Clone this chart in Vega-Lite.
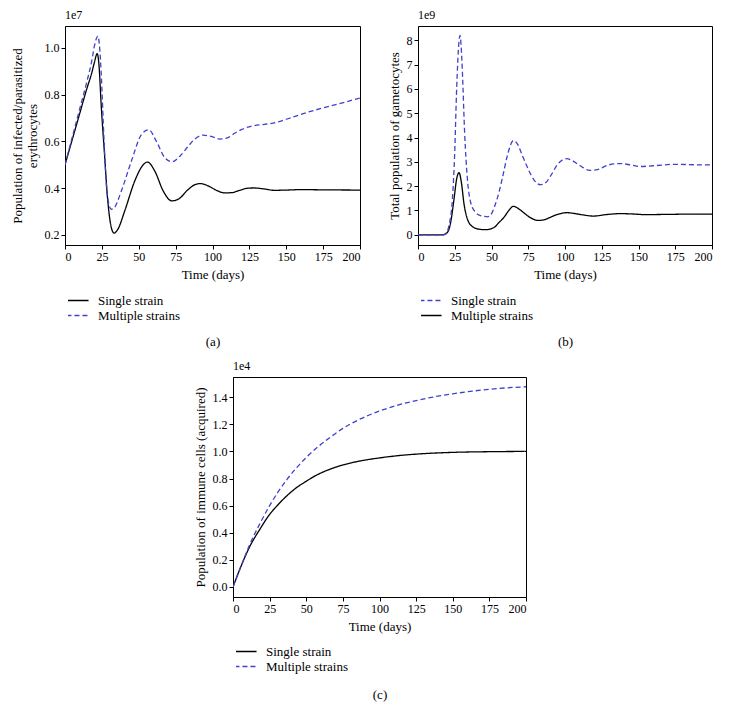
{
  "$schema": "https://vega.github.io/schema/vega-lite/v6.json",
  "padding": {"left": 10, "top": 8, "right": 5, "bottom": 5},
  "background": "white",
  "config": {
    "font": "Liberation Serif",
    "view": {"stroke": "black", "strokeWidth": 1},
    "axis": {"grid": false, "domainColor": "black", "tickColor": "black", "labelColor": "black", "titleColor": "black", "labelFontSize": 12, "titleFontSize": 13, "titleFontWeight": "normal", "tickSize": 4, "labelPadding": 2, "labelFont": "Liberation Serif", "titleFont": "Liberation Serif", "titleLineHeight": 15},
    "legend": {"orient": "none", "legendX": 3, "labelFontSize": 13, "labelFont": "Liberation Serif", "labelColor": "black", "symbolType": "M-1.3,0H1.3", "symbolSize": 289, "symbolStrokeWidth": 1.3, "labelOffset": 11, "rowPadding": 0, "clipHeight": 15, "padding": 0},
    "title": {"fontSize": 12, "fontWeight": "normal", "anchor": "start", "frame": "group", "color": "black", "offset": 4, "font": "Liberation Serif"},
    "line": {"strokeWidth": 1.3, "interpolate": "monotone"}
  },
  "datasets": {
    "a": [
      {"t": 0, "v": 0.5, "s": "Single strain"},
      {"t": 5, "v": 0.61, "s": "Single strain"},
      {"t": 10, "v": 0.72, "s": "Single strain"},
      {"t": 15, "v": 0.83, "s": "Single strain"},
      {"t": 18, "v": 0.89, "s": "Single strain"},
      {"t": 20, "v": 0.94, "s": "Single strain"},
      {"t": 21.8, "v": 0.976, "s": "Single strain"},
      {"t": 23, "v": 0.93, "s": "Single strain"},
      {"t": 24.5, "v": 0.76, "s": "Single strain"},
      {"t": 26.8, "v": 0.544, "s": "Single strain"},
      {"t": 29, "v": 0.346, "s": "Single strain"},
      {"t": 30.9, "v": 0.247, "s": "Single strain"},
      {"t": 33.2, "v": 0.208, "s": "Single strain"},
      {"t": 35.9, "v": 0.225, "s": "Single strain"},
      {"t": 40.5, "v": 0.303, "s": "Single strain"},
      {"t": 47.3, "v": 0.431, "s": "Single strain"},
      {"t": 53, "v": 0.5, "s": "Single strain"},
      {"t": 55.9, "v": 0.512, "s": "Single strain"},
      {"t": 60.9, "v": 0.473, "s": "Single strain"},
      {"t": 66.6, "v": 0.388, "s": "Single strain"},
      {"t": 72.3, "v": 0.346, "s": "Single strain"},
      {"t": 76.8, "v": 0.353, "s": "Single strain"},
      {"t": 83.6, "v": 0.395, "s": "Single strain"},
      {"t": 88, "v": 0.415, "s": "Single strain"},
      {"t": 92, "v": 0.42, "s": "Single strain"},
      {"t": 97, "v": 0.41, "s": "Single strain"},
      {"t": 103, "v": 0.39, "s": "Single strain"},
      {"t": 108, "v": 0.38, "s": "Single strain"},
      {"t": 113, "v": 0.381, "s": "Single strain"},
      {"t": 118, "v": 0.39, "s": "Single strain"},
      {"t": 124, "v": 0.4, "s": "Single strain"},
      {"t": 128, "v": 0.401, "s": "Single strain"},
      {"t": 135, "v": 0.397, "s": "Single strain"},
      {"t": 142, "v": 0.391, "s": "Single strain"},
      {"t": 150, "v": 0.392, "s": "Single strain"},
      {"t": 160, "v": 0.394, "s": "Single strain"},
      {"t": 175, "v": 0.393, "s": "Single strain"},
      {"t": 200, "v": 0.392, "s": "Single strain"},
      {"t": 0, "v": 0.5, "s": "Multiple strains"},
      {"t": 5, "v": 0.62, "s": "Multiple strains"},
      {"t": 10, "v": 0.74, "s": "Multiple strains"},
      {"t": 15, "v": 0.86, "s": "Multiple strains"},
      {"t": 18, "v": 0.94, "s": "Multiple strains"},
      {"t": 20, "v": 1.01, "s": "Multiple strains"},
      {"t": 22.3, "v": 1.051, "s": "Multiple strains"},
      {"t": 23.5, "v": 1.0, "s": "Multiple strains"},
      {"t": 24.5, "v": 0.898, "s": "Multiple strains"},
      {"t": 26.4, "v": 0.615, "s": "Multiple strains"},
      {"t": 28.6, "v": 0.374, "s": "Multiple strains"},
      {"t": 31.4, "v": 0.31, "s": "Multiple strains"},
      {"t": 33.6, "v": 0.318, "s": "Multiple strains"},
      {"t": 38.2, "v": 0.388, "s": "Multiple strains"},
      {"t": 45, "v": 0.516, "s": "Multiple strains"},
      {"t": 51.8, "v": 0.629, "s": "Multiple strains"},
      {"t": 56.8, "v": 0.65, "s": "Multiple strains"},
      {"t": 62, "v": 0.6, "s": "Multiple strains"},
      {"t": 67.7, "v": 0.53, "s": "Multiple strains"},
      {"t": 72.7, "v": 0.513, "s": "Multiple strains"},
      {"t": 77.9, "v": 0.537, "s": "Multiple strains"},
      {"t": 83.6, "v": 0.58, "s": "Multiple strains"},
      {"t": 88, "v": 0.61, "s": "Multiple strains"},
      {"t": 93.5, "v": 0.627, "s": "Multiple strains"},
      {"t": 100, "v": 0.62, "s": "Multiple strains"},
      {"t": 105, "v": 0.61, "s": "Multiple strains"},
      {"t": 110, "v": 0.615, "s": "Multiple strains"},
      {"t": 115, "v": 0.635, "s": "Multiple strains"},
      {"t": 120, "v": 0.652, "s": "Multiple strains"},
      {"t": 127.5, "v": 0.667, "s": "Multiple strains"},
      {"t": 135, "v": 0.673, "s": "Multiple strains"},
      {"t": 143, "v": 0.681, "s": "Multiple strains"},
      {"t": 150, "v": 0.695, "s": "Multiple strains"},
      {"t": 158, "v": 0.712, "s": "Multiple strains"},
      {"t": 170, "v": 0.735, "s": "Multiple strains"},
      {"t": 185, "v": 0.76, "s": "Multiple strains"},
      {"t": 200, "v": 0.786, "s": "Multiple strains"}
    ],
    "b": [
      {"t": 0, "v": 0, "s": "Multiple strains"},
      {"t": 10, "v": 0, "s": "Multiple strains"},
      {"t": 16.6, "v": 0, "s": "Multiple strains"},
      {"t": 20, "v": 0.1, "s": "Multiple strains"},
      {"t": 22.2, "v": 0.5, "s": "Multiple strains"},
      {"t": 24.5, "v": 1.47, "s": "Multiple strains"},
      {"t": 26.3, "v": 2.3, "s": "Multiple strains"},
      {"t": 27.9, "v": 2.56, "s": "Multiple strains"},
      {"t": 29.5, "v": 2.16, "s": "Multiple strains"},
      {"t": 31.3, "v": 1.27, "s": "Multiple strains"},
      {"t": 33.6, "v": 0.65, "s": "Multiple strains"},
      {"t": 37, "v": 0.34, "s": "Multiple strains"},
      {"t": 41.5, "v": 0.23, "s": "Multiple strains"},
      {"t": 46, "v": 0.21, "s": "Multiple strains"},
      {"t": 51.7, "v": 0.3, "s": "Multiple strains"},
      {"t": 55, "v": 0.5, "s": "Multiple strains"},
      {"t": 58.5, "v": 0.72, "s": "Multiple strains"},
      {"t": 62, "v": 1.02, "s": "Multiple strains"},
      {"t": 64.9, "v": 1.17, "s": "Multiple strains"},
      {"t": 68.7, "v": 1.06, "s": "Multiple strains"},
      {"t": 72.1, "v": 0.9, "s": "Multiple strains"},
      {"t": 76, "v": 0.72, "s": "Multiple strains"},
      {"t": 82, "v": 0.59, "s": "Multiple strains"},
      {"t": 86, "v": 0.62, "s": "Multiple strains"},
      {"t": 90, "v": 0.72, "s": "Multiple strains"},
      {"t": 95, "v": 0.84, "s": "Multiple strains"},
      {"t": 101.4, "v": 0.91, "s": "Multiple strains"},
      {"t": 106, "v": 0.88, "s": "Multiple strains"},
      {"t": 112, "v": 0.82, "s": "Multiple strains"},
      {"t": 119.5, "v": 0.77, "s": "Multiple strains"},
      {"t": 128, "v": 0.83, "s": "Multiple strains"},
      {"t": 137.6, "v": 0.87, "s": "Multiple strains"},
      {"t": 145, "v": 0.86, "s": "Multiple strains"},
      {"t": 155, "v": 0.83, "s": "Multiple strains"},
      {"t": 170, "v": 0.84, "s": "Multiple strains"},
      {"t": 185, "v": 0.85, "s": "Multiple strains"},
      {"t": 200, "v": 0.85, "s": "Multiple strains"},
      {"t": 0, "v": 0, "s": "Single strain"},
      {"t": 10, "v": 0, "s": "Single strain"},
      {"t": 17, "v": 0, "s": "Single strain"},
      {"t": 18.8, "v": 0.03, "s": "Single strain"},
      {"t": 21, "v": 0.37, "s": "Single strain"},
      {"t": 23.4, "v": 1.47, "s": "Single strain"},
      {"t": 24.9, "v": 3.26, "s": "Single strain"},
      {"t": 26.3, "v": 6.02, "s": "Single strain"},
      {"t": 27.9, "v": 7.95, "s": "Single strain"},
      {"t": 28.6, "v": 8.2, "s": "Single strain"},
      {"t": 29.3, "v": 7.8, "s": "Single strain"},
      {"t": 30.2, "v": 6.7, "s": "Single strain"},
      {"t": 31.7, "v": 4.23, "s": "Single strain"},
      {"t": 33.6, "v": 2.3, "s": "Single strain"},
      {"t": 35.8, "v": 1.34, "s": "Single strain"},
      {"t": 39.2, "v": 0.92, "s": "Single strain"},
      {"t": 42, "v": 0.8, "s": "Single strain"},
      {"t": 44.9, "v": 0.76, "s": "Single strain"},
      {"t": 47, "v": 0.74, "s": "Single strain"},
      {"t": 49.4, "v": 0.81, "s": "Single strain"},
      {"t": 52, "v": 1.15, "s": "Single strain"},
      {"t": 55.1, "v": 1.75, "s": "Single strain"},
      {"t": 58, "v": 2.5, "s": "Single strain"},
      {"t": 60.8, "v": 3.26, "s": "Single strain"},
      {"t": 64.9, "v": 3.88, "s": "Single strain"},
      {"t": 67.6, "v": 3.74, "s": "Single strain"},
      {"t": 71, "v": 3.26, "s": "Single strain"},
      {"t": 75, "v": 2.7, "s": "Single strain"},
      {"t": 79, "v": 2.25, "s": "Single strain"},
      {"t": 83.2, "v": 2.06, "s": "Single strain"},
      {"t": 87, "v": 2.15, "s": "Single strain"},
      {"t": 90, "v": 2.4, "s": "Single strain"},
      {"t": 95, "v": 2.9, "s": "Single strain"},
      {"t": 101, "v": 3.13, "s": "Single strain"},
      {"t": 105, "v": 3.05, "s": "Single strain"},
      {"t": 110, "v": 2.85, "s": "Single strain"},
      {"t": 117, "v": 2.65, "s": "Single strain"},
      {"t": 122, "v": 2.68, "s": "Single strain"},
      {"t": 130, "v": 2.88, "s": "Single strain"},
      {"t": 137.6, "v": 2.93, "s": "Single strain"},
      {"t": 145, "v": 2.87, "s": "Single strain"},
      {"t": 151, "v": 2.81, "s": "Single strain"},
      {"t": 160, "v": 2.84, "s": "Single strain"},
      {"t": 175, "v": 2.9, "s": "Single strain"},
      {"t": 190, "v": 2.88, "s": "Single strain"},
      {"t": 200, "v": 2.88, "s": "Single strain"}
    ],
    "c": [
      {"t": 0, "v": 0, "s": "Single strain"},
      {"t": 5, "v": 0.14, "s": "Single strain"},
      {"t": 12, "v": 0.31, "s": "Single strain"},
      {"t": 18, "v": 0.42, "s": "Single strain"},
      {"t": 25, "v": 0.535, "s": "Single strain"},
      {"t": 31, "v": 0.61, "s": "Single strain"},
      {"t": 37, "v": 0.675, "s": "Single strain"},
      {"t": 43, "v": 0.73, "s": "Single strain"},
      {"t": 50, "v": 0.78, "s": "Single strain"},
      {"t": 57, "v": 0.825, "s": "Single strain"},
      {"t": 64.6, "v": 0.862, "s": "Single strain"},
      {"t": 75, "v": 0.9, "s": "Single strain"},
      {"t": 87, "v": 0.93, "s": "Single strain"},
      {"t": 100, "v": 0.952, "s": "Single strain"},
      {"t": 112, "v": 0.968, "s": "Single strain"},
      {"t": 125, "v": 0.98, "s": "Single strain"},
      {"t": 150, "v": 0.993, "s": "Single strain"},
      {"t": 175, "v": 0.998, "s": "Single strain"},
      {"t": 200, "v": 1.0, "s": "Single strain"},
      {"t": 0, "v": 0, "s": "Multiple strains"},
      {"t": 5, "v": 0.14, "s": "Multiple strains"},
      {"t": 12, "v": 0.327, "s": "Multiple strains"},
      {"t": 18, "v": 0.46, "s": "Multiple strains"},
      {"t": 25, "v": 0.6, "s": "Multiple strains"},
      {"t": 31, "v": 0.705, "s": "Multiple strains"},
      {"t": 37, "v": 0.795, "s": "Multiple strains"},
      {"t": 43, "v": 0.875, "s": "Multiple strains"},
      {"t": 50, "v": 0.955, "s": "Multiple strains"},
      {"t": 57, "v": 1.025, "s": "Multiple strains"},
      {"t": 64.6, "v": 1.09, "s": "Multiple strains"},
      {"t": 75, "v": 1.17, "s": "Multiple strains"},
      {"t": 87, "v": 1.24, "s": "Multiple strains"},
      {"t": 100, "v": 1.298, "s": "Multiple strains"},
      {"t": 112, "v": 1.34, "s": "Multiple strains"},
      {"t": 125, "v": 1.375, "s": "Multiple strains"},
      {"t": 137, "v": 1.402, "s": "Multiple strains"},
      {"t": 150, "v": 1.425, "s": "Multiple strains"},
      {"t": 162, "v": 1.443, "s": "Multiple strains"},
      {"t": 175, "v": 1.458, "s": "Multiple strains"},
      {"t": 187, "v": 1.469, "s": "Multiple strains"},
      {"t": 200, "v": 1.477, "s": "Multiple strains"}
    ]
  },
  "spacing": 10,
  "vconcat": [
    {
      "spacing": 26,
      "hconcat": [
        {
          "width": 295,
          "height": 219,
          "data": {"name": "a"},
          "title": {"text": "1e7"},
          "mark": {"type": "line", "clip": true},
          "encoding": {
            "x": {"field": "t", "type": "quantitative", "scale": {"domain": [0, 200], "nice": false},
              "axis": {"values": [0, 25, 50, 75, 100, 125, 150, 175, 200], "titlePadding": 6, "titleLineHeight": 67,
                "title": ["Time (days)", "(a)"]}},
            "y": {"field": "v", "type": "quantitative", "scale": {"domain": [0.157, 1.094], "nice": false, "zero": false},
              "axis": {"values": [0.2, 0.4, 0.6, 0.8, 1.0], "format": ".1f", "titlePadding": 5,
                "title": ["Population of infected/parasitized", "erythrocytes"]}},
            "color": {"field": "s", "type": "nominal", "scale": {"domain": ["Single strain", "Multiple strains"], "range": ["black", "#4040cc"]},
              "legend": {"title": null, "legendY": 267}},
            "strokeDash": {"field": "s", "type": "nominal", "scale": {"domain": ["Single strain", "Multiple strains"], "range": [[1, 0], [5, 3]]},
              "legend": {"title": null, "legendY": 267}}
          }
        },
        {
          "width": 294,
          "height": 219,
          "data": {"name": "b"},
          "title": {"text": "1e9"},
          "mark": {"type": "line", "clip": true},
          "encoding": {
            "x": {"field": "t", "type": "quantitative", "scale": {"domain": [0, 200], "nice": false},
              "axis": {"values": [0, 25, 50, 75, 100, 125, 150, 175, 200], "titlePadding": 6, "titleLineHeight": 67,
                "title": ["Time (days)", "(b)"]}},
            "y": {"field": "v", "type": "quantitative", "scale": {"domain": [-0.42, 8.59], "nice": false, "zero": false},
              "axis": {"values": [0, 1, 2, 3, 4, 5, 6, 7, 8], "format": "d", "titlePadding": 5,
                "title": "Total population of gametocytes"}},
            "color": {"field": "s", "type": "nominal", "scale": {"domain": ["Single strain", "Multiple strains"], "range": ["#4040cc", "black"]},
              "legend": {"title": null, "legendY": 267}},
            "strokeDash": {"field": "s", "type": "nominal", "scale": {"domain": ["Single strain", "Multiple strains"], "range": [[5, 3], [1, 0]]},
              "legend": {"title": null, "legendY": 267}}
          }
        }
      ],
      "resolve": {"scale": {"color": "independent", "strokeDash": "independent"}}
    },
    {
      "spacing": 10,
      "hconcat": [
        {
          "width": 118,
          "height": 1,
          "view": {"stroke": null},
          "data": {"values": []},
          "mark": "point"
        },
        {
          "width": 293,
          "height": 220,
          "data": {"name": "c"},
          "title": {"text": "1e4"},
          "mark": {"type": "line", "clip": true},
          "encoding": {
            "x": {"field": "t", "type": "quantitative", "scale": {"domain": [0, 200], "nice": false},
              "axis": {"values": [0, 25, 50, 75, 100, 125, 150, 175, 200], "titlePadding": 6, "titleLineHeight": 68,
                "title": ["Time (days)", "(c)"]}},
            "y": {"field": "v", "type": "quantitative", "scale": {"domain": [-0.074, 1.549], "nice": false, "zero": false},
              "axis": {"values": [0, 0.2, 0.4, 0.6, 0.8, 1.0, 1.2, 1.4], "format": ".1f", "titlePadding": 5,
                "title": "Population of immune cells (acquired)"}},
            "color": {"field": "s", "type": "nominal", "scale": {"domain": ["Single strain", "Multiple strains"], "range": ["black", "#4040cc"]},
              "legend": {"title": null, "legendY": 267}},
            "strokeDash": {"field": "s", "type": "nominal", "scale": {"domain": ["Single strain", "Multiple strains"], "range": [[1, 0], [5, 3]]},
              "legend": {"title": null, "legendY": 267}}
          }
        }
      ],
      "resolve": {"scale": {"color": "independent", "strokeDash": "independent"}}
    }
  ],
  "resolve": {"scale": {"color": "independent", "strokeDash": "independent"}}
}
